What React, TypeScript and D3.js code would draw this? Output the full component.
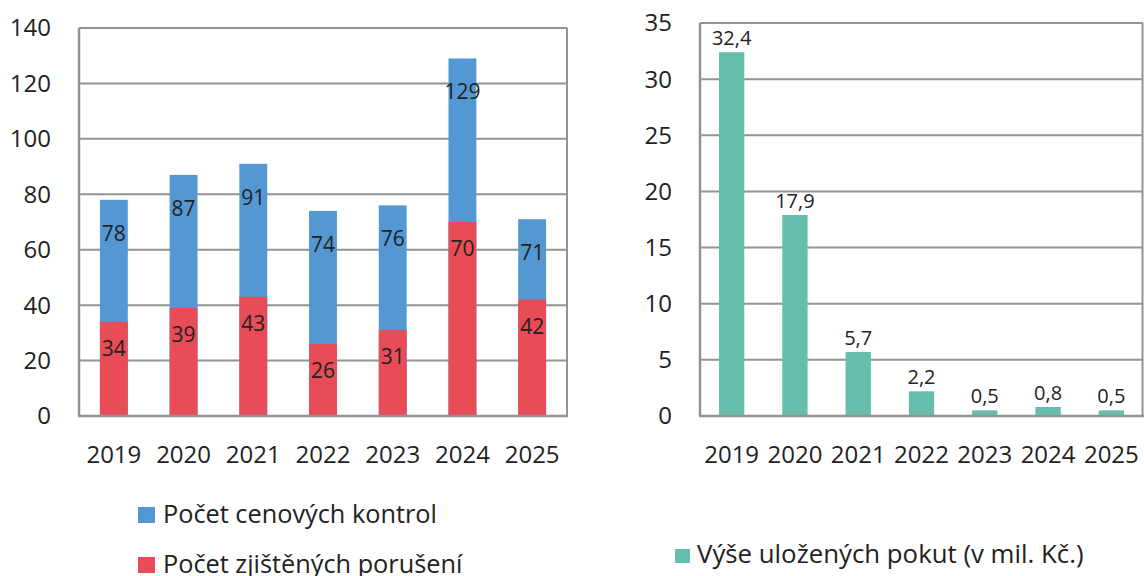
import React from "react";
import * as d3 from "d3";

const years = ["2019", "2020", "2021", "2022", "2023", "2024", "2025"];
const kontroly = [78, 87, 91, 74, 76, 129, 71];
const poruseni = [34, 39, 43, 26, 31, 70, 42];
const pokuty = [32.4, 17.9, 5.7, 2.2, 0.5, 0.8, 0.5];
const leftTicks = [0, 20, 40, 60, 80, 100, 120, 140];
const rightTicks = [0, 5, 10, 15, 20, 25, 30, 35];
const legendLeft = ["Počet cenových kontrol", "Počet zjištěných porušení"];
const legendRight = "Výše uložených pokut (v mil. Kč.)";

const BLUE = "#5498d3";
const RED = "#e84c56";
const TEAL = "#66bfad";
const GRID = "#939393";
const FONT = "'Open Sans', 'Noto Sans', sans-serif";
const TXT = "#222";

export default function App() {
  const lx = d3.scaleBand<string>().domain(years).range([79, 567]).paddingInner(0.6).paddingOuter(0.3);
  const ly = d3.scaleLinear().domain([0, 140]).range([416, 28]);
  const rx = d3.scaleBand<string>().domain(years).range([700, 1143]).paddingInner(0.6).paddingOuter(0.3);
  const ry = d3.scaleLinear().domain([0, 35]).range([416, 23]);
  const fmt = (v: number) => v.toFixed(1).replace(".", ",");

  return (
    <svg width={1144} height={576} style={{ position: "absolute", left: 0, top: 0, background: "#fff" }} fontFamily={FONT}>
      {/* LEFT PANEL */}
      {leftTicks.map((t) => (
        <g key={"lt" + t}>
          <line x1={79} x2={567} y1={ly(t)} y2={ly(t)} stroke={GRID} strokeWidth={2} />
          <text x={51} y={ly(t)} dy="0.35em" textAnchor="end" fontSize={24} fill={TXT}>{t}</text>
        </g>
      ))}
      <line x1={79} x2={79} y1={28} y2={416} stroke={GRID} strokeWidth={2.5} />
      <line x1={567} x2={567} y1={28} y2={416} stroke={GRID} strokeWidth={2} />
      {years.map((yr, i) => (
        <g key={"lb" + yr}>
          <rect x={lx(yr)} y={ly(kontroly[i])} width={lx.bandwidth()} height={ly(0) - ly(kontroly[i])} fill={BLUE} />
          <rect x={lx(yr)} y={ly(poruseni[i])} width={lx.bandwidth()} height={ly(0) - ly(poruseni[i])} fill={RED} />
          <text x={lx(yr)! + lx.bandwidth() / 2} y={ly(kontroly[i]) + 41} textAnchor="middle" fontSize={21} fill={TXT}>{kontroly[i]}</text>
          <text x={lx(yr)! + lx.bandwidth() / 2} y={ly(poruseni[i]) + 34} textAnchor="middle" fontSize={21} fill={TXT}>{poruseni[i]}</text>
          <text x={lx(yr)! + lx.bandwidth() / 2} y={463} textAnchor="middle" fontSize={24} fill={TXT}>{yr}</text>
        </g>
      ))}
      <line x1={78} x2={568} y1={416} y2={416} stroke={GRID} strokeWidth={2.5} />
      {/* left legend */}
      <rect x={138} y={507} width={17} height={16} fill={BLUE} />
      <text x={163} y={523} fontSize={25.3} fill={TXT}>{legendLeft[0]}</text>
      <rect x={138} y={557} width={17} height={16} fill={RED} />
      <text x={163} y={573} fontSize={25.3} fill={TXT}>{legendLeft[1]}</text>

      {/* RIGHT PANEL */}
      {rightTicks.map((t) => (
        <g key={"rt" + t}>
          <line x1={700} x2={1143} y1={ry(t)} y2={ry(t)} stroke={GRID} strokeWidth={2} />
          <text x={672} y={ry(t)} dy="0.35em" textAnchor="end" fontSize={24} fill={TXT}>{t}</text>
        </g>
      ))}
      <line x1={700} x2={700} y1={23} y2={416} stroke={GRID} strokeWidth={2.5} />
      <line x1={1142.5} x2={1142.5} y1={23} y2={416} stroke={GRID} strokeWidth={2} />
      {years.map((yr, i) => (
        <g key={"rb" + yr}>
          <rect x={rx(yr)} y={ry(pokuty[i])} width={rx.bandwidth()} height={ry(0) - ry(pokuty[i])} fill={TEAL} />
          <text x={rx(yr)! + rx.bandwidth() / 2} y={ry(pokuty[i]) - 7} textAnchor="middle" fontSize={20} fill={TXT}>{fmt(pokuty[i])}</text>
          <text x={rx(yr)! + rx.bandwidth() / 2} y={463} textAnchor="middle" fontSize={24} fill={TXT}>{yr}</text>
        </g>
      ))}
      <line x1={699} x2={1144} y1={416} y2={416} stroke={GRID} strokeWidth={2.5} />
      {/* right legend */}
      <rect x={675} y={549} width={15} height={14} fill={TEAL} />
      <text x={697} y={563} fontSize={25.8} fill={TXT}>{legendRight}</text>
    </svg>
  );
}
